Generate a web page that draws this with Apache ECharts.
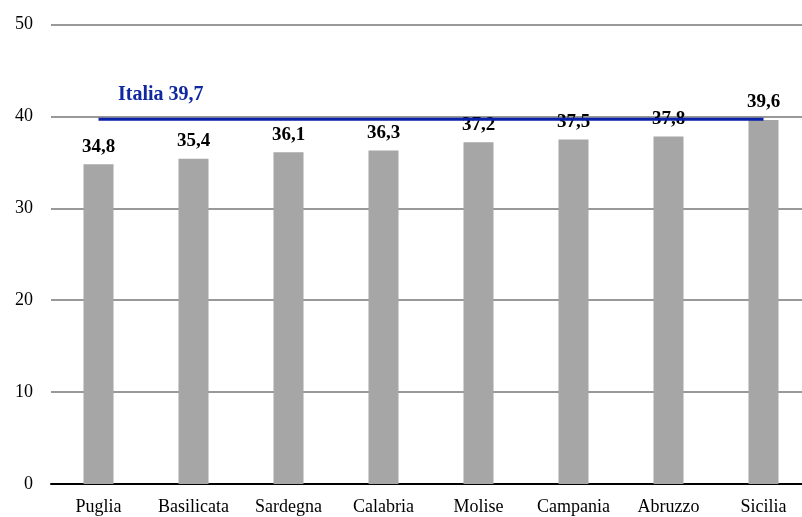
<!DOCTYPE html>
<html>
<head>
<meta charset="utf-8">
<style>
  html, body { margin: 0; padding: 0; background: #fff; overflow: hidden; }
  /* the plot area runs a few pixels past the right edge of the window */
  #chart { width: 811px; height: 517px; }
</style>
<script src="https://cdn.jsdelivr.net/npm/echarts@6/dist/echarts.min.js"></script>
</head>
<body>
<div id="chart"></div>
<script>
// Regioni del Mezzogiorno e media nazionale
var regioni = ['Puglia', 'Basilicata', 'Sardegna', 'Calabria', 'Molise', 'Campania', 'Abruzzo', 'Sicilia'];
var valori = [34.8, 35.4, 36.1, 36.3, 37.2, 37.5, 37.8, 39.6];
var italia = 39.7;
var yTicks = [0, 10, 20, 30, 40, 50];

var fmt = function (v) { return String(v).replace('.', ','); };

var lineaItalia = regioni.map(function (r, i) {
  if (i === 0) {
    return {
      value: italia,
      label: {
        show: true,
        position: [20, -34],
        formatter: 'Italia ' + fmt(italia),
        color: '#1028a0',
        fontFamily: 'Liberation Serif',
        fontWeight: 'bold',
        fontSize: 20
      }
    };
  }
  return italia;
});

var chart = echarts.init(document.getElementById('chart'), null, { renderer: 'canvas' });
chart.setOption({
  animation: false,
  backgroundColor: '#ffffff',
  grid: { left: 51, right: 0, top: 24.5, bottom: 33, containLabel: false },
  xAxis: {
    type: 'category',
    data: regioni,
    axisLine: { show: true, lineStyle: { color: '#000', width: 2 } },
    axisTick: { show: false },
    axisLabel: {
      color: '#000',
      fontFamily: 'Liberation Serif',
      fontSize: 18,
      margin: 14,
      interval: 0
    }
  },
  yAxis: {
    type: 'value',
    min: yTicks[0],
    max: yTicks[yTicks.length - 1],
    interval: 10,
    axisLine: { show: false },
    axisTick: { show: false },
    splitLine: { show: true, lineStyle: { color: '#999999', width: 2 } },
    axisLabel: {
      color: '#000',
      fontFamily: 'Liberation Serif',
      fontSize: 18,
      margin: 18
    }
  },
  series: [
    {
      type: 'bar',
      data: valori,
      barWidth: 30,
      itemStyle: { color: '#a6a6a6' },
      label: {
        show: true,
        position: 'top',
        distance: 8,
        color: '#000',
        fontFamily: 'Liberation Serif',
        fontWeight: 'bold',
        fontSize: 19,
        formatter: function (p) { return fmt(p.value); }
      },
      z: 2
    },
    {
      type: 'line',
      data: lineaItalia,
      symbol: 'circle',
      symbolSize: 1,
      showSymbol: true,
      itemStyle: { color: 'rgba(0,0,0,0)' },
      lineStyle: { color: '#0a22a8', width: 3 },
      label: { show: false },
      z: 3
    }
  ]
});
</script>
</body>
</html>
